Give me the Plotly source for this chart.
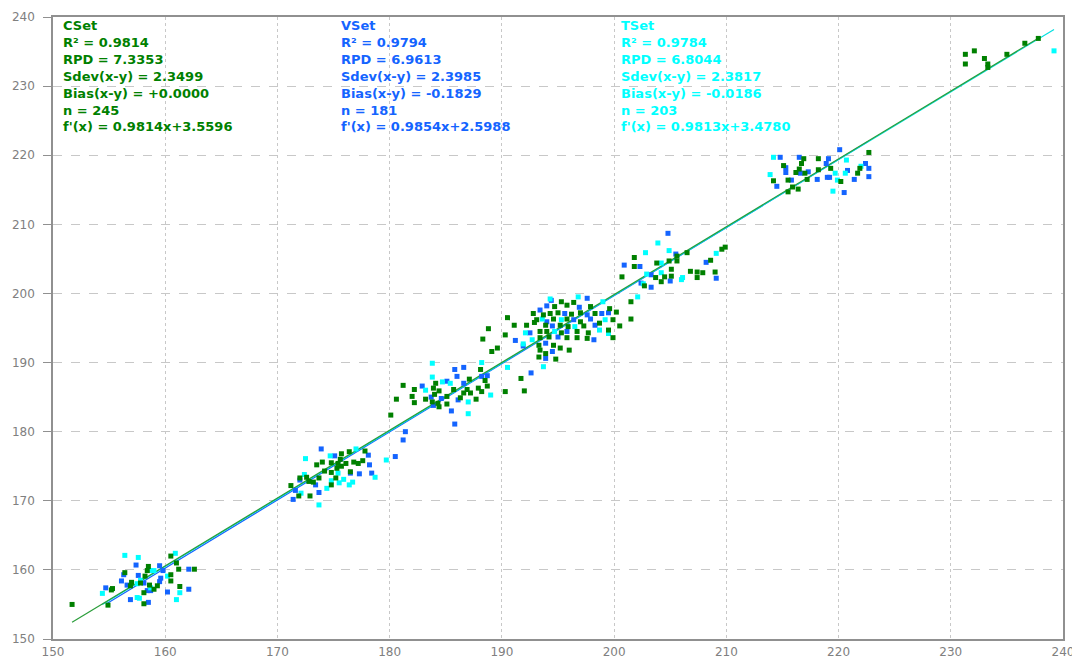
import plotly.graph_objects as go
import numpy as np

# ---------------- data ----------------
cset_x = [160.5, 161.0, 158.5, 158.4, 156.4, 158.2, 161.2, 162.6, 160.5, 157.0, 156.9, 157.8, 158.6, 159.3,
          160.5, 159.0, 155.3, 155.2, 158.1, 161.3, 158.1, 151.7, 154.9,
          175.7, 176.4, 177.8, 175.6, 173.5, 174.0, 174.8, 175.4, 176.1, 176.8, 177.2, 177.6, 174.2, 174.8,
          175.3, 175.7, 176.5, 172.0, 172.6, 172.8, 173.2, 173.7, 175.2, 174.8, 171.2, 171.9, 172.9,
          189.1, 188.1, 191.7, 187.1, 188.5, 181.2, 184.1, 183.9, 184.4, 185.7, 186.9, 187.9, 188.7, 182.2,
          186.6, 187.2, 188.2, 190.3, 192.0, 184.0, 183.2, 182.0, 180.6, 183.8, 185.1, 186.3, 187.7, 182.2,
          184.3, 184.4, 185.1, 180.1,
          195.3, 196.4, 194.7, 195.8, 197.9, 199.6, 200.2, 201.5, 202.7, 192.8, 193.7, 194.3, 195.0, 196.2,
          197.0, 198.3, 190.5, 193.1, 194.6, 195.8, 197.0, 198.7, 199.9, 201.5, 191.1, 192.2, 192.9, 193.9,
          195.2, 195.9, 197.3, 200.5, 188.8, 193.4, 194.0, 195.3, 196.7, 197.7, 199.5, 190.3, 188.3, 193.4,
          194.2, 195.8, 196.7, 197.6, 199.9, 189.6, 193.3, 194.6, 195.2, 193.4, 193.9, 196.0, 193.3, 194.8,
          205.6, 206.5, 201.8, 205.6, 209.6, 209.9, 208.6, 201.8, 203.8, 204.9, 205.1, 206.8, 207.4, 207.9,
          209.0, 203.7, 204.5, 205.1, 200.7, 207.4, 204.2,
          222.7, 216.9, 218.2, 216.7, 215.1, 219.3, 221.9, 221.7, 216.5, 216.2, 217.0, 218.2, 217.2, 214.2,
          215.5, 220.2, 215.9, 216.4, 215.5,
          237.8, 236.6, 235.0, 232.1, 231.3, 233.0, 231.3, 233.3, 233.3]
cset_y = [162.0, 161.0, 160.5, 159.9, 159.6, 159.1, 160.1, 160.1, 159.3, 158.2, 157.7, 158.1, 157.8, 157.7,
          158.4, 157.2, 157.3, 157.1, 156.7, 157.6, 155.1, 155.0, 154.9,
          176.8, 177.1, 177.2, 176.0, 175.2, 175.6, 175.5, 175.4, 175.4, 175.6, 175.4, 175.8, 174.3, 174.1,
          174.7, 175.0, 174.2, 173.3, 173.4, 172.8, 172.7, 173.3, 173.3, 172.3, 172.2, 170.7, 170.7,
          191.6, 189.0, 187.7, 187.6, 187.4, 186.7, 187.0, 186.3, 185.9, 186.1, 186.1, 186.3, 186.6, 186.1,
          185.6, 185.6, 185.8, 185.8, 185.9, 185.4, 184.7, 185.1, 184.7, 184.3, 185.1, 184.9, 184.7, 184.2,
          184.1, 183.6, 184.0, 182.4,
          198.8, 198.7, 198.1, 198.3, 198.1, 197.8, 197.3, 198.8, 201.1, 197.1, 196.9, 197.1, 197.2, 197.0,
          197.2, 197.1, 196.5, 196.2, 196.3, 196.3, 195.9, 195.7, 196.2, 196.3, 195.4, 195.4, 195.8, 195.4,
          195.4, 195.2, 195.3, 195.3, 194.9, 194.5, 194.5, 194.3, 194.5, 194.3, 194.7, 194.0, 193.4, 193.6,
          193.7, 193.6, 193.6, 193.5, 193.6, 192.1, 192.5, 192.5, 192.1, 191.8, 191.3, 191.8, 190.8, 190.5,
          205.4, 205.9, 205.2, 204.7, 206.4, 206.7, 204.8, 203.9, 204.4, 204.7, 203.5, 203.2, 203.1, 203.0,
          203.1, 202.3, 202.4, 202.5, 202.4, 202.3, 201.7,
          220.4, 219.5, 219.5, 218.8, 218.5, 218.1, 218.1, 217.4, 218.0, 217.5, 217.4, 217.9, 216.5, 216.3,
          216.4, 216.2, 215.4, 215.1, 214.7,
          236.9, 236.2, 234.6, 235.1, 234.6, 234.0, 233.2, 233.2, 232.7]

vset_x = [157.4, 159.5, 159.8, 156.3, 157.6, 162.1, 156.1, 156.6, 158.1, 159.5, 159.6, 154.7, 158.4, 158.7,
          160.2, 162.1, 156.9, 158.5,
          181.4, 181.2, 180.5, 173.9, 178.1, 175.1, 178.2, 176.5, 177.3, 178.4, 172.0, 173.4, 171.6, 173.7, 171.4,
          185.8, 186.6, 192.6, 185.1, 186.0, 188.2, 188.7, 186.6, 182.9, 183.7, 184.6, 186.1, 183.9, 185.5, 185.8,
          202.4, 197.6, 194.4, 194.0, 196.9, 199.5, 193.4, 195.6, 197.6, 198.9, 194.0, 196.4, 197.9, 194.5,
          198.3, 192.5, 195.8, 191.2, 195.0, 198.2, 191.9, 193.9, 194.5, 193.9,
          204.8, 205.5, 208.2, 200.9, 202.3, 203.3, 209.1, 205.0, 203.3,
          220.1, 214.8, 216.5, 219.1, 215.3, 218.9, 222.4, 222.7, 220.8, 216.6, 217.3, 215.3, 222.7, 221.4,
          218.1, 219.0, 219.2, 215.8, 214.5, 220.5]
vset_y = [160.7, 160.6, 159.9, 159.3, 159.2, 160.1, 158.4, 157.8, 158.1, 158.3, 158.8, 157.4, 157.0, 157.0,
          156.8, 157.2, 155.7, 155.3,
          180.0, 178.8, 176.4, 177.5, 176.6, 176.5, 175.2, 174.0, 173.9, 174.0, 173.0, 172.3, 171.5, 171.2, 170.2,
          189.0, 189.3, 188.5, 187.3, 188.0, 188.0, 188.1, 187.0, 186.6, 185.0, 184.8, 184.6, 183.8, 183.0, 181.1,
          201.5, 199.3, 199.0, 198.2, 198.0, 197.2, 197.6, 197.1, 196.9, 197.1, 195.9, 196.2, 196.3, 195.3,
          195.4, 194.3, 194.5, 193.2, 193.7, 193.3, 192.4, 192.8, 191.6, 190.6,
          208.7, 205.7, 204.5, 204.1, 203.9, 202.7, 202.2, 201.8, 200.9,
          220.8, 219.7, 219.7, 219.5, 218.2, 218.8, 218.8, 218.1, 217.8, 217.4, 217.6, 217.5, 216.9, 216.5,
          216.5, 216.8, 216.8, 216.4, 215.5, 214.6]

tset_x = [156.4, 157.6, 160.9, 158.7, 159.0, 160.2, 157.8, 157.5, 158.7, 154.4, 161.3, 157.5, 157.7, 161.0,
          179.7, 177.0, 172.5, 174.7, 175.4, 178.7, 172.4, 174.8, 175.5, 175.9, 176.7, 176.4, 174.4, 173.7, 172.1,
          183.8, 188.2, 190.5, 183.8, 184.7, 185.4, 183.2, 189.0, 187.0, 187.0,
          196.8, 194.3, 199.0, 202.1, 193.6, 195.3, 199.2, 196.5, 192.1, 194.7, 198.7, 199.5, 192.7, 191.9, 193.7,
          203.9, 202.8, 204.9, 209.1, 204.2, 204.2, 202.9, 206.1, 206.0, 202.6,
          214.2, 220.7, 222.0, 220.6, 219.7, 213.9, 219.9, 219.5,
          239.2]
tset_y = [162.1, 161.8, 162.4, 159.9, 159.9, 159.1, 158.5, 158.0, 157.4, 156.6, 156.7, 156.0, 155.9, 155.7,
          175.9, 177.5, 176.1, 176.5, 174.0, 173.4, 173.8, 172.9, 172.6, 173.1, 172.7, 172.3, 171.8, 169.4, 171.1,
          189.9, 190.0, 189.3, 187.9, 187.2, 187.0, 186.0, 185.3, 184.3, 182.6,
          199.5, 199.2, 198.8, 199.5, 196.3, 196.2, 196.2, 195.2, 194.3, 194.5, 194.7, 194.2, 193.3, 192.7, 189.4,
          207.3, 205.9, 206.2, 205.8, 204.4, 203.0, 202.8, 202.3, 202.0, 201.4,
          219.7, 219.3, 218.4, 217.4, 217.4, 217.2, 216.4, 214.8,
          235.1]

set_names = ["CSet", "VSet", "TSet"]
r2 = ["0.9814", "0.9794", "0.9784"]
rpd = ["7.3353", "6.9613", "6.8044"]
sdev = ["2.3499", "2.3985", "2.3817"]
bias = ["+0.0000", "-0.1829", "-0.0186"]
n_text = ["245", "181", "203"]
slopes = [0.9814, 0.9854, 0.9813]
intercepts = [3.5596, 2.5988, 3.4780]

colors = ["#008000", "#1464ff", "#00ffff"]
line_colors = ["#2a9d3a", "#1464ff", "#00e0e0"]

xs = [cset_x, vset_x, tset_x]
ys = [cset_y, vset_y, tset_y]

fig = go.Figure()

# regression lines (blue, cyan, green on top)
for i in [1, 2, 0]:
    xx = np.array([min(xs[i]), max(xs[i])])
    fig.add_trace(go.Scatter(x=xx, y=slopes[i] * xx + intercepts[i], mode="lines",
                             line=dict(color=line_colors[i], width=1.2), hoverinfo="skip",
                             showlegend=False))

# points
for i in [1, 2, 0]:
    fig.add_trace(go.Scatter(x=xs[i], y=ys[i], mode="markers", name=set_names[i],
                             marker=dict(symbol="square", size=5, color=colors[i], line=dict(width=0)),
                             showlegend=False))

# page body has an 8 px margin: figure spans x 8..1080, y 8..659
OFF = 8
W, H = 1080 - OFF, 659 - OFF
plot_left, plot_right, plot_top, plot_bottom = 53 - OFF, 1063 - OFF, 17 - OFF, 639 - OFF
plot_w = plot_right - plot_left

# statistics texts (one block per set)
text_x_px = [62 - OFF, 340 - OFF, 620 - OFF]
for i in range(3):
    lines = [set_names[i],
             f"R² = {r2[i]}",
             f"RPD = {rpd[i]}",
             f"Sdev(x-y) = {sdev[i]}",
             f"Bias(x-y) = {bias[i]}",
             f"n = {n_text[i]}",
             f"f'(x) = {slopes[i]:.4f}x+{intercepts[i]:.4f}"]
    fig.add_annotation(x=(text_x_px[i] - plot_left) / plot_w, y=1.0,
                       xref="paper", yref="paper", xanchor="left", yanchor="top", align="left",
                       text="<b>" + "<br>".join(lines) + "</b>", showarrow=False, borderpad=0,
                       font=dict(family="DejaVu Sans", size=13, color=colors[i]))

axis_common = dict(range=[150, 240], dtick=10, showgrid=True, gridcolor="#c8c8c8", gridwidth=1,
                   showline=True, linecolor="#909090", linewidth=1.5, mirror=True,
                   tickcolor="#909090", zeroline=False, automargin=False,
                   tickfont=dict(family="DejaVu Sans", size=12, color="#808080"))

fig.update_layout(
    width=W, height=H,
    margin=dict(l=plot_left, r=W - plot_right, t=plot_top, b=H - plot_bottom),
    paper_bgcolor="white", plot_bgcolor="white",
    xaxis=dict(**axis_common, griddash="dot", ticks="", ticklabelstandoff=1),
    yaxis=dict(**axis_common, griddash="dash", ticks="outside", ticklen=8, ticklabelstandoff=6),
)

fig.write_html("out.html")
